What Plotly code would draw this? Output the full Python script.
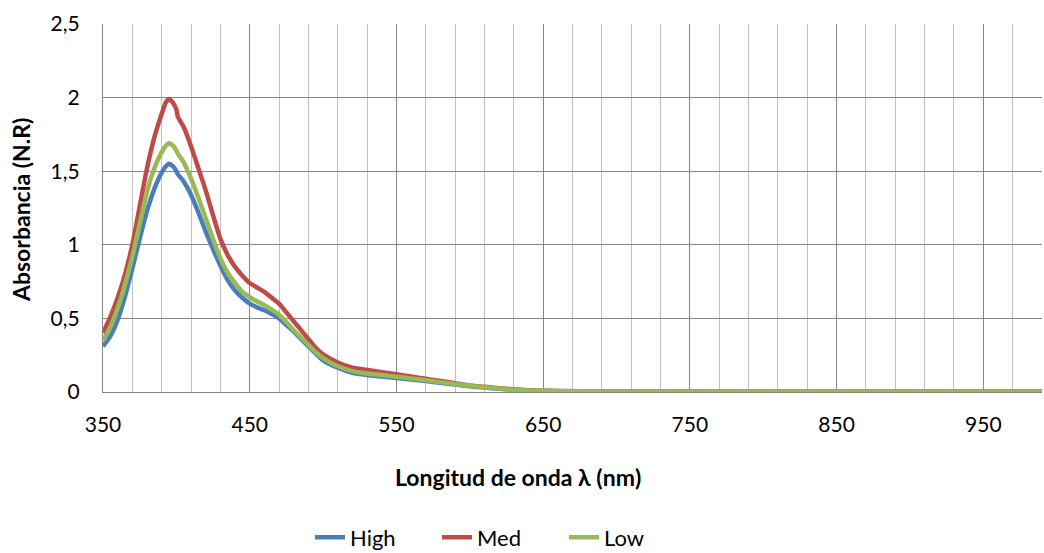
import plotly.graph_objects as go

wavelength = [350, 355, 360, 365, 370, 375, 380, 385, 390, 393, 395, 398, 400, 401, 405,
              410, 415, 420, 425, 430, 435, 440, 445, 450, 455, 460, 465, 470, 475, 480,
              485, 490, 495, 500, 510, 520, 530, 540, 550, 560, 570, 580, 590, 600, 610,
              620, 630, 640, 650, 700, 750, 800, 850, 900, 950, 990]

high = [0.31, 0.38, 0.49, 0.65, 0.84, 1.04, 1.23, 1.38, 1.49, 1.535, 1.55, 1.53, 1.50, 1.48, 1.43,
        1.34, 1.22, 1.09, 0.97, 0.86, 0.76, 0.69, 0.64, 0.60, 0.575, 0.555, 0.53, 0.50, 0.455, 0.41,
        0.36, 0.31, 0.26, 0.215, 0.165, 0.13, 0.115, 0.105, 0.095, 0.085, 0.075, 0.062, 0.05, 0.039, 0.03,
        0.022, 0.015, 0.01, 0.006, 0.003, 0.002, 0.002, 0.002, 0.002, 0.002, 0.002]

med = [0.40, 0.51, 0.64, 0.80, 1.00, 1.26, 1.52, 1.73, 1.89, 1.97, 1.99, 1.96, 1.92, 1.87, 1.80,
       1.67, 1.52, 1.37, 1.20, 1.04, 0.93, 0.85, 0.79, 0.74, 0.71, 0.68, 0.64, 0.60, 0.54, 0.48,
       0.42, 0.36, 0.30, 0.255, 0.20, 0.165, 0.15, 0.135, 0.12, 0.105, 0.09, 0.075, 0.06, 0.045, 0.035,
       0.025, 0.018, 0.012, 0.008, 0.004, 0.003, 0.003, 0.003, 0.003, 0.003, 0.002]

low = [0.35, 0.44, 0.57, 0.73, 0.92, 1.14, 1.36, 1.52, 1.63, 1.675, 1.69, 1.67, 1.64, 1.62, 1.56,
       1.45, 1.32, 1.18, 1.04, 0.91, 0.81, 0.74, 0.68, 0.645, 0.615, 0.59, 0.56, 0.525, 0.475, 0.42,
       0.37, 0.32, 0.27, 0.23, 0.175, 0.142, 0.126, 0.115, 0.104, 0.092, 0.08, 0.067, 0.054, 0.042, 0.032,
       0.023, 0.016, 0.011, 0.007, 0.004, 0.003, 0.003, 0.003, 0.003, 0.003, 0.002]

series = [("High", high, "#4A7EBB"), ("Med", med, "#BE4B48"), ("Low", low, "#98B954")]

FONT = "Lato, Calibri, Arial, sans-serif"

fig = go.Figure()
for name, vals, color in series:
    fig.add_trace(go.Scatter(x=wavelength, y=vals, name=name, mode="lines",
                             line=dict(color=color, width=4.5, shape="spline", smoothing=0.5)))

fig.update_layout(
    width=1044, height=553,
    margin=dict(l=103, r=2, t=24, b=161, autoexpand=False),
    paper_bgcolor="white", plot_bgcolor="white",
    separators=", ",
    font=dict(family=FONT, size=21, color="#000000"),
    showlegend=True,
    legend=dict(orientation="h", xref="container", yref="container",
                x=310 / 1044, xanchor="left", y=0.028, yanchor="middle",
                font=dict(family=FONT, size=22, color="#000000"), traceorder="normal",
                itemwidth=30, entrywidth=82, entrywidthmode="pixels",
                bgcolor="rgba(0,0,0,0)"),
    xaxis=dict(range=[350, 990], tick0=350, dtick=100, showgrid=True, gridcolor="#878787",
               gridwidth=1.3, showline=True, linecolor="#878787", linewidth=1.3,
               zeroline=False, ticks="", ticklabelstandoff=14,
               minor=dict(dtick=20, tick0=350, showgrid=True, gridcolor="#C0C0C0", gridwidth=1.3),
               mirror=False),
    yaxis=dict(range=[0, 2.5], dtick=0.5, showgrid=True, gridcolor="#878787", gridwidth=1.3,
               showline=True, linecolor="#878787", linewidth=1.3, zeroline=False,
               ticks="", ticklabelstandoff=18, tickformat=".1~f"),
    annotations=[
        dict(text="<b>Longitud de onda λ (nm)</b>", xref="paper", yref="paper",
             x=(518 - 103) / 939, y=(392 - 477) / 368, xanchor="center", yanchor="middle",
             showarrow=False, font=dict(family=FONT, size=23, color="#000000")),
        dict(text="<b>Absorbancia (N.R)</b>", xref="paper", yref="paper",
             x=(21 - 103) / 939, y=(392 - 210) / 368, xanchor="center", yanchor="middle",
             showarrow=False, textangle=-90, font=dict(family=FONT, size=23, color="#000000")),
    ],
)

fig.write_html("out.html")
